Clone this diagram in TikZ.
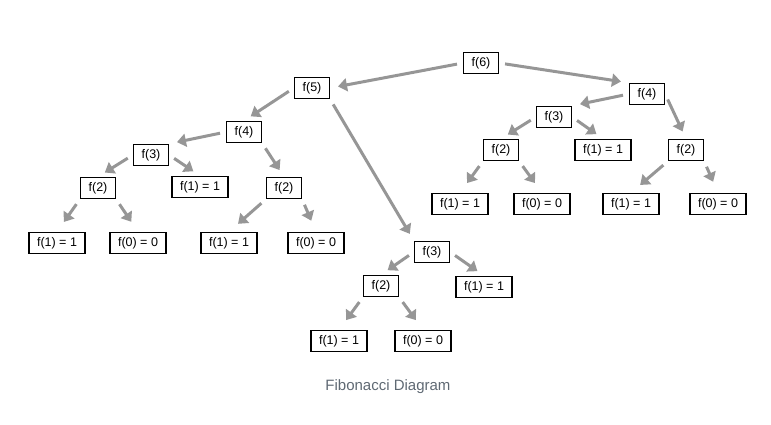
\documentclass[tikz,border=0pt]{standalone}
\usepackage{fontspec}
\setmainfont{Liberation Sans}
\usetikzlibrary{arrows.meta}
\definecolor{arrowgray}{RGB}{150,150,150}
\definecolor{capgray}{RGB}{95,105,115}
\begin{document}
\begin{tikzpicture}[x=1pt,y=-1pt,
  call/.style={draw,line width=1.5pt,inner xsep=8pt,minimum height=21pt,font=\fontsize{12.5}{14}\selectfont},
  link/.style={draw=arrowgray,line width=3pt,-{Triangle[width=13pt,length=9pt]},shorten <=6pt,shorten >=8pt},
  leaf/.style={link,shorten >=12pt}]
\useasboundingbox (0,0) rectangle (771,425);
% Calls
\node[call] (n6) at (481,63) {f(6)};
\node[call] (n5) at (312,88) {f(5)};
\node[call] (n4l) at (244,132) {f(4)};
\node[call] (n4r) at (647,94) {f(4)};
\node[call] (n3l) at (151,155) {f(3)};
\node[call] (n3m) at (432,252) {f(3)};
\node[call] (n3r) at (554,117) {f(3)};
\node[call] (n2ll) at (98,188) {f(2)};
\node[call] (n2lr) at (284,188) {f(2)};
\node[call] (n2m) at (381,286) {f(2)};
\node[call] (n2rl) at (501,150) {f(2)};
\node[call] (n2rr) at (686,150) {f(2)};
% Base cases
\node[call] (a1) at (200,187) {f(1) = 1};
\node[call] (b1) at (57,243) {f(1) = 1};
\node[call] (b2) at (138,243) {f(0) = 0};
\node[call] (b3) at (229,243) {f(1) = 1};
\node[call] (b4) at (316,243) {f(0) = 0};
\node[call] (c1) at (484,287) {f(1) = 1};
\node[call] (c2) at (339,341) {f(1) = 1};
\node[call] (c3) at (423,341) {f(0) = 0};
\node[call] (d1) at (603,150) {f(1) = 1};
\node[call] (d2) at (460,204) {f(1) = 1};
\node[call] (d3) at (542,204) {f(0) = 0};
\node[call] (d4) at (631,204) {f(1) = 1};
\node[call] (d5) at (718,204) {f(0) = 0};
% Arrows
\draw[link] (n6.west) -- (n5.east);
\draw[link] (n6.east) -- (n4r.north west);
\draw[link] (n5.west) -- (n4l.north);
\draw[link] (n5.south east) -- (n3m.north west);
\draw[link] (n4l.west) -- (n3l.north east);
\draw[link] (n4l.south east) -- (n2lr.north);
\draw[link] (n3l.west) -- (n2ll.north);
\draw[link] (n3l.east) -- (a1.north);
\draw[leaf] (n2ll.south west) -- (b1.north);
\draw[leaf] (n2ll.south east) -- (b2.north);
\draw[leaf] (n2lr.south west) -- (b3.north);
\draw[leaf] (n2lr.south east) -- (b4.north);
\draw[link] (n3m.west) -- (n2m.north);
\draw[link] (n3m.east) -- (c1.north);
\draw[leaf] (n2m.south west) -- (c2.north);
\draw[leaf] (n2m.south east) -- (c3.north);
\draw[link] (n4r.west) -- (n3r.north east);
\draw[link] (n4r.east) -- (n2rr.north);
\draw[link] (n3r.west) -- (n2rl.north);
\draw[link] (n3r.east) -- (d1.north);
\draw[leaf] (n2rl.south west) -- (d2.north);
\draw[leaf] (n2rl.south east) -- (d3.north);
\draw[leaf] (n2rr.south west) -- (d4.north);
\draw[leaf] (n2rr.south east) -- (d5.north);
\node[text=capgray,font=\fontsize{15}{18}\selectfont] (caption) at (388,387) {Fibonacci Diagram};
\end{tikzpicture}
\end{document}
